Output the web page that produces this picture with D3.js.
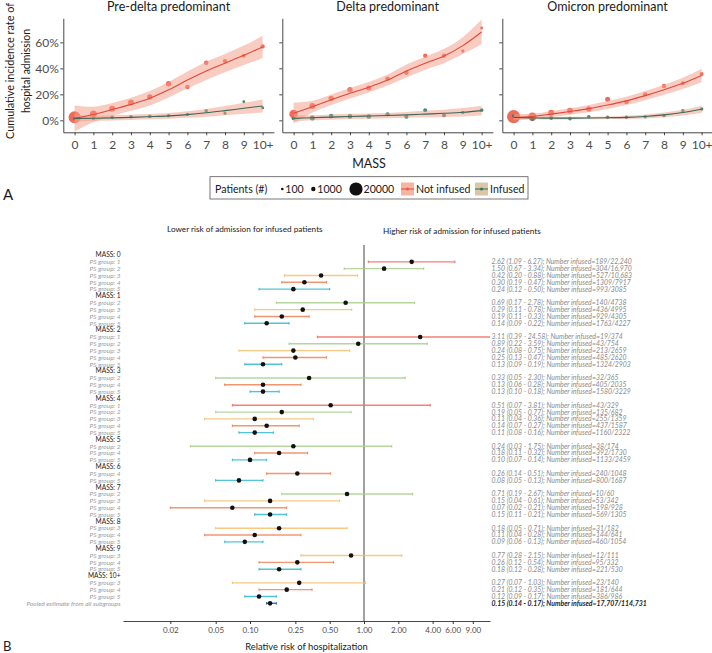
<!DOCTYPE html>
<html><head><meta charset="utf-8">
<script src="https://cdn.jsdelivr.net/npm/d3@7"></script>
<style>body{margin:0;background:#fff} svg{font-family:Lato,"DejaVu Sans",sans-serif}</style>
</head><body><svg id="c" width="712" height="653"></svg>
<script>
// ---------- Panel A data ----------
const massCats = ["0","1","2","3","4","5","6","7","8","9","10+"];
const panelTitles = ["Pre-delta predominant","Delta predominant","Omicron predominant"];
const yTickVals = [0,20,40,60];

const preNotPts = [2.3,4.8,8.9,13.8,17.9,28.2,25.6,44.3,45.6,49.7,56.9];
const preNotFit = [1.5,4.5,8.3,12.3,17.0,23.5,31.0,38.0,44.0,50.0,56.5];
const preNotLow = [-8.5,-1.5,3.3,7.3,11.5,17.5,24.5,31.0,37.0,42.5,48.0];
const preNotUp  = [11.5,10.5,13.3,17.3,22.5,29.5,37.5,45.0,51.0,57.5,65.0];
const preNotN   = [16000,4200,2700,2700,2000,2000,1200,1200,1000,750,1000];
const preInfPts = [1.5,1.5,2.3,2.8,3.1,3.6,4.6,7.4,5.4,14.3,9.7];
const preInfFit = [1.5,1.6,1.9,2.3,2.8,3.4,4.4,5.8,7.5,9.3,11.0];
const preInfLow = [-1.5,-0.4,-0.1,0.3,0.8,1.2,1.9,2.8,4.0,5.1,6.0];
const preInfUp  = [4.5,3.6,3.9,4.3,4.8,5.6,6.9,8.8,11.0,13.5,16.0];
const preInfN   = [300,500,500,500,500,400,400,400,250,150,300];

const delNotPts = [4.8,11.0,16.9,23.5,24.8,32.0,36.6,49.7,49.7,53.3,71.0];
const delNotFit = [5.5,10.5,15.8,20.8,25.5,31.0,38.0,44.0,49.5,57.5,68.0];
const delNotLow = [-2.5,6.0,11.8,16.8,21.5,26.8,33.0,39.0,44.0,51.0,58.5];
const delNotUp  = [13.5,15.0,19.8,24.8,29.5,35.2,43.0,49.0,55.0,64.0,77.5];
const delNotN   = [7000,2700,2000,2000,1600,1300,1200,1000,1000,400,220];
const delInfPts = [1.5,1.8,3.3,3.0,3.0,4.6,2.8,7.7,3.8,6.1,7.9];
const delInfFit = [1.5,2.0,2.5,3.0,3.3,3.7,4.2,4.8,5.4,6.2,7.5];
const delInfLow = [-1.0,0.0,0.5,1.0,1.3,1.7,2.0,2.3,2.6,3.0,3.7];
const delInfUp  = [4.0,4.0,4.5,5.0,5.3,5.7,6.4,7.3,8.2,9.4,11.3];
const delInfN   = [700,1600,1300,1300,1100,900,800,700,600,400,600];

const omiNotPts = [2.8,2.8,5.9,7.4,8.7,16.2,14.1,20.0,26.4,28.5,35.6];
const omiNotFit = [2.3,3.0,4.8,6.8,9.0,11.8,15.0,19.0,23.5,28.5,34.5];
const omiNotLow = [-0.2,1.0,2.5,4.3,6.2,8.8,11.8,15.5,19.7,24.2,29.3];
const omiNotUp  = [4.8,5.0,7.1,9.3,11.8,14.8,18.2,22.5,27.3,32.8,39.7];
const omiNotN   = [20000,6700,2700,2700,2000,1600,1300,1000,1000,750,750];
const omiInfPts = [3.3,1.0,1.8,1.3,2.8,2.3,2.3,2.8,3.6,7.4,8.7];
const omiInfFit = [2.2,1.9,1.7,1.7,1.8,2.0,2.3,3.0,4.2,6.0,8.5];
const omiInfLow = [0.7,0.9,0.7,0.7,0.8,1.0,1.1,1.5,2.4,3.8,5.7];
const omiInfUp  = [3.7,2.9,2.7,2.7,2.8,3.0,3.5,4.5,6.0,8.2,11.3];
const omiInfN   = [500,750,600,500,500,500,500,400,400,400,500];

const legendSizes = [100,1000,20000];

// ---------- Panel B data ----------
const massGroups = ["0","1","2","3","4","5","6","7","8","9","10+"];
const forestMass = ["0","0","0","0","0","1","1","1","1","2","2","2","2","2","3","3","3","4","4","4","4","4","5","5","5","6","6","7","7","7","7","8","8","8","9","9","9","10+","10+","10+"];
const forestPS = [1,2,3,4,5, 2,3,4,5, 1,2,3,4,5, 2,4,5, 1,2,3,4,5, 2,4,5, 4,5, 2,3,4,5, 3,4,5, 3,4,5, 3,4,5];
const rr     = [2.62,1.50,0.42,0.30,0.24, 0.69,0.29,0.19,0.14, 3.11,0.89,0.24,0.25,0.13, 0.33,0.13,0.13, 0.51,0.19,0.11,0.14,0.11, 0.24,0.18,0.10, 0.26,0.08, 0.71,0.15,0.07,0.15, 0.18,0.11,0.09, 0.77,0.26,0.18, 0.27,0.21,0.12];
const rrLow  = [1.09,0.67,0.20,0.19,0.12, 0.17,0.11,0.11,0.09, 0.39,0.22,0.08,0.13,0.09, 0.05,0.06,0.10, 0.07,0.05,0.04,0.07,0.08, 0.03,0.11,0.07, 0.14,0.05, 0.19,0.04,0.02,0.11, 0.05,0.04,0.06, 0.28,0.12,0.12, 0.07,0.12,0.09];
const rrHigh = [6.27,3.34,0.88,0.47,0.50, 2.78,0.78,0.33,0.22, 24.58,3.59,0.75,0.47,0.19, 2.30,0.28,0.18, 3.81,0.77,0.36,0.27,0.16, 1.75,0.32,0.14, 0.51,0.13, 2.67,0.61,0.21,0.21, 0.71,0.28,0.13, 2.15,0.54,0.28, 1.03,0.35,0.17];
const nInfused = [189,304,527,1309,993, 140,436,929,1763, 19,43,213,485,1324, 32,405,1580, 43,135,255,437,1160, 38,392,1133, 240,800, 10,53,198,569, 31,144,460, 12,95,221, 23,181,386];
const nTotal   = [22240,16970,10683,7917,3085, 4738,4995,4305,4227, 374,754,2659,2620,2903, 365,2035,3229, 329,682,1359,1587,2322, 174,1730,2459, 1048,1687, 60,342,928,1305, 182,641,1054, 111,332,530, 140,644,986];
const pooled = {rr:0.15, lo:0.14, hi:0.17, inf:17707, tot:114731};
const rrTicks = [0.02,0.05,0.1,0.25,0.5,1,2,4,6,9];

// ---------- drawing ----------
const svg = d3.select("#c");
const RED = "#ee5a48", REDLINE = "#e4463a", GRN = "#2f7a66", GRNLINE = "#35695a", BAND = "#f49a84";
const panels = [
  {not:[preNotPts,preNotFit,preNotLow,preNotUp,preNotN], inf:[preInfPts,preInfFit,preInfLow,preInfUp,preInfN]},
  {not:[delNotPts,delNotFit,delNotLow,delNotUp,delNotN], inf:[delInfPts,delInfFit,delInfLow,delInfUp,delInfN]},
  {not:[omiNotPts,omiNotFit,omiNotLow,omiNotUp,omiNotN], inf:[omiInfPts,omiInfFit,omiInfLow,omiInfUp,omiInfN]}
];
const panelLefts = [63.3, 282.3, 502.3], PW = 210.6, PT = 18.3, PB = 132.3;
const y = d3.scaleLinear().domain([-9.2, 78.5]).range([PB, PT]);
const rScale = d3.scaleSqrt().domain([0,20000]).range([0.9,6.6]);

panels.forEach((p,i)=>{
  const L = panelLefts[i];
  const x = d3.scalePoint().domain(massCats).range([L, L+PW]).padding(0.6);
  const clipId = "clip"+i;
  svg.append("clipPath").attr("id",clipId).append("rect").attr("x",L).attr("y",PT).attr("width",PW).attr("height",PB-PT);
  const g = svg.append("g").attr("clip-path",`url(#${clipId})`);
  [[p.not,RED],[p.inf,GRN]].forEach(([s,col])=>{
    g.selectAll(null).data(massCats).join("circle")
      .attr("cx",d=>x(d)).attr("cy",(d,j)=>y(s[0][j])).attr("r",(d,j)=>rScale(s[4][j]))
      .attr("fill",col).attr("opacity",0.9);
  });
  [p.not,p.inf].forEach(s=>{
    const area = d3.area().x((d,j)=>x(massCats[j])).y0(d=>y(d[0])).y1(d=>y(d[1])).curve(d3.curveMonotoneX);
    g.append("path").datum(s[2].map((v,j)=>[v,s[3][j]])).attr("d",area).attr("fill",BAND).attr("opacity",0.5);
  });
  [[p.not,REDLINE],[p.inf,GRNLINE]].forEach(([s,lc])=>{
    const line = d3.line().x((d,j)=>x(massCats[j])).y(d=>y(d)).curve(d3.curveMonotoneX);
    g.append("path").datum(s[1]).attr("d",line).attr("fill","none").attr("stroke",lc).attr("stroke-width",1.1);
  });
  const ya = svg.append("g").attr("transform",`translate(${L},0)`)
    .call(d3.axisLeft(y).tickValues(yTickVals).tickSize(3).tickSizeOuter(0).tickFormat(i===0?(d=>d+"%"):""));
  const xa = svg.append("g").attr("transform",`translate(0,${PB})`)
    .call(d3.axisBottom(x).tickSize(3).tickSizeOuter(0));
  [ya,xa].forEach(a=>{
    a.select(".domain").attr("stroke","#333").attr("stroke-width",0.9);
    a.selectAll(".tick line").attr("stroke","#333").attr("stroke-width",0.9);
    a.selectAll(".tick text").attr("fill","#4d4d4d").style("font-size","12px").style("font-family","Lato");
  });
  ya.selectAll(".tick text").attr("x",-4.5);
  xa.selectAll(".tick text").attr("y",8);
  svg.append("text").attr("x",L+PW/2).attr("y",11).attr("text-anchor","middle")
    .style("font-size","12.5px").attr("fill","#1a1a1a").text(panelTitles[i]);
});
svg.append("text").attr("transform","translate(14,71) rotate(-90)").attr("text-anchor","middle")
  .attr("textLength",136).attr("lengthAdjust","spacingAndGlyphs")
  .style("font-size","11px").attr("fill","#1a1a1a").text("Cumulative incidence rate of");
svg.append("text").attr("transform","translate(30,71) rotate(-90)").attr("text-anchor","middle")
  .attr("textLength",84).attr("lengthAdjust","spacingAndGlyphs")
  .style("font-size","11px").attr("fill","#1a1a1a").text("hospital admission");
svg.append("text").attr("x",369).attr("y",168).attr("text-anchor","middle")
  .style("font-size","12.5px").attr("fill","#1a1a1a").text("MASS");
svg.append("text").attr("x",3).attr("y",200).style("font-size","15px").attr("fill","#1a1a1a").text("A");

// legend
const lg = svg.append("g");
lg.append("rect").attr("x",210).attr("y",176.7).attr("width",318).attr("height",22.3).attr("fill","none").attr("stroke","#555").attr("stroke-width",0.8);
const LY = 189;
lg.append("text").attr("x",215).attr("y",LY+3.8).style("font-size","10.6px").attr("fill","#1a1a1a").text("Patients (#)");
const lgx = [282.3, 313.3, 356], lgtx = [285.3, 317.3, 363.5];
legendSizes.forEach((s,k)=>{
  lg.append("circle").attr("cx",lgx[k]).attr("cy",LY).attr("r",rScale(s)).attr("fill","#111");
  lg.append("text").attr("x",lgtx[k]).attr("y",LY+3.8).style("font-size","10.6px").attr("fill","#1a1a1a").text(s);
});
[[401,"#f6b5a2",REDLINE,RED,416,"Not infused"],[475,"#dcc6a8",GRNLINE,GRN,490,"Infused"]].forEach(([kx,bg,lc,pc,tx,lab])=>{
  lg.append("rect").attr("x",kx).attr("y",LY-6.5).attr("width",13).attr("height",13).attr("fill",bg);
  lg.append("line").attr("x1",kx).attr("x2",kx+13).attr("y1",LY).attr("y2",LY).attr("stroke",lc).attr("stroke-width",1);
  lg.append("circle").attr("cx",kx+6.5).attr("cy",LY).attr("r",1.6).attr("fill",pc);
  lg.append("text").attr("x",tx).attr("y",LY+3.8).style("font-size","10.6px").attr("fill","#1a1a1a").text(lab);
});

// ---------- Panel B ----------
const psColor = {1:"#f26d5e",2:"#a9cf8d",3:"#f9bf6f",4:"#f0845a",5:"#33bccf"};
const fx = d3.scaleLog().domain([0.00769, 12.74]).range([123, 490]).clamp(true);
const ROW0 = 255, ROWH = 6.83;
const rows = [];
massGroups.forEach(m=>{
  rows.push({type:"head", label:"MASS: "+m});
  forestMass.forEach((mm,k)=>{ if(mm===m) rows.push({type:"ps", k}); });
});
rows.push({type:"pool"});
const fmtN = n => n>=10000 ? d3.format(",")(n) : String(n);
const f2 = d3.format(".2f");
const fg = svg.append("g");
fg.append("line").attr("x1",fx(1)).attr("x2",fx(1)).attr("y1",245).attr("y2",621).attr("stroke","#444").attr("stroke-width",1);
rows.forEach((r,i)=>{
  const yy = ROW0 + i*ROWH;
  if(r.type==="head"){
    fg.append("text").attr("x",120.5).attr("y",yy).attr("dy","0.35em").attr("text-anchor","end")
      .style("font-size","6.6px").attr("fill","#222").text(r.label);
    return;
  }
  let est,lo,hi,col,lab,txt,bold=false;
  if(r.type==="ps"){
    const k=r.k; est=rr[k]; lo=rrLow[k]; hi=rrHigh[k]; col=psColor[forestPS[k]];
    lab="PS group: "+forestPS[k];
    txt=`${f2(est)} (${f2(lo)} - ${f2(hi)}); Number infused=${fmtN(nInfused[k])}/${fmtN(nTotal[k])}`;
  } else {
    est=pooled.rr; lo=pooled.lo; hi=pooled.hi; col="#2b5a8a"; lab="Pooled estimate from all subgroups"; bold=true;
    txt=`${f2(est)} (${f2(lo)} - ${f2(hi)}); Number infused=${fmtN(pooled.inf)}/${fmtN(pooled.tot)}`;
  }
  fg.append("text").attr("x",120.5).attr("y",yy).attr("dy","0.35em").attr("text-anchor","end")
    .style("font-size","6.5px").style("font-style","italic").attr("fill","#9a9a9a").text(lab);
  fg.append("line").attr("x1",fx(lo)).attr("x2",fx(hi)).attr("y1",yy).attr("y2",yy)
    .attr("stroke",col).attr("stroke-width",1.4).attr("opacity",0.85);
  [lo,hi].forEach(v=>{
    if(v>fx.domain()[0] && v<fx.domain()[1])
      fg.append("line").attr("x1",fx(v)).attr("x2",fx(v)).attr("y1",yy-1.3).attr("y2",yy+1.3).attr("stroke",col).attr("stroke-width",1);
  });
  fg.append("circle").attr("cx",fx(est)).attr("cy",yy).attr("r",2.3).attr("fill","#111");
  fg.append("text").attr("x",491.5).attr("y",yy).attr("dy","0.35em")
    .attr("textLength",bold?null:null)
    .style("font-size","6.9px").style("font-style","italic").style("font-weight",bold?"bold":"normal")
    .attr("fill",bold?"#222":"#8a8a8a").text(txt);
});
fg.append("text").attr("x",167).attr("y",232).style("font-size","8.2px").attr("fill","#222").text("Lower risk of admission for infused patients");
fg.append("text").attr("x",383).attr("y",234).style("font-size","8.2px").attr("fill","#222").text("Higher risk of admission for infused patients");
const fa = svg.append("g").attr("transform","translate(0,621)")
  .call(d3.axisBottom(fx).tickValues(rrTicks).tickFormat(f2).tickSize(3).tickSizeOuter(0));
fa.select(".domain").attr("stroke","#333").attr("stroke-width",0.9);
fa.selectAll(".tick line").attr("stroke","#333");
fa.selectAll(".tick text").attr("fill","#4d4d4d").style("font-size","8px").style("font-family","Lato").attr("y",6);
svg.append("text").attr("x",306.5).attr("y",650).attr("text-anchor","middle").style("font-size","9.4px").attr("fill","#222").text("Relative risk of hospitalization");
svg.append("text").attr("x",3).attr("y",651).style("font-size","13px").attr("fill","#1a1a1a").text("B");
</script></body></html>
